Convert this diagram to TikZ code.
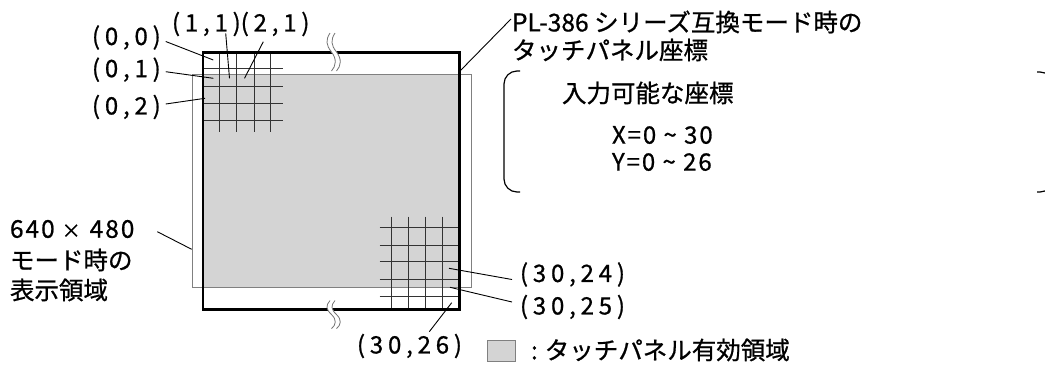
\documentclass[tikz,border=0pt]{standalone}
\usepackage{fontspec}
\setmainfont{Noto Sans CJK JP}[FakeBold=0.8]
\newfontfamily\spc{Noto Sans CJK JP}[LetterSpace=20,FakeBold=0.8]
\newfontfamily\spcb{Noto Sans CJK JP}[LetterSpace=8,FakeBold=0.8]
\begin{document}
\begin{tikzpicture}[x=1pt,y=-1pt,
  txt/.style={inner sep=0pt, outer sep=0pt, anchor=west, font=\fontsize{24.5}{30}\selectfont},
  coordlbl/.style={txt, font=\spc\fontsize{24}{30}\selectfont},
  rangelbl/.style={txt, font=\spcb\fontsize{24}{30}\selectfont},
  leader/.style={draw=black, line width=0.9pt},
  gridln/.style={draw=black!80, line width=0.9pt},
  frameln/.style={draw=black, line width=2.6pt},
  displn/.style={draw=black!50, line width=1pt},
  shadefill/.style={fill=black!17},
  brkln/.style={draw=black!55, line width=0.8pt},
  bracketln/.style={draw=black, line width=1.2pt, rounded corners=13pt}]
\clip (0,0) rectangle (1045,365);
\fill[white] (0,0) rectangle (1045,365);
% shaded touch area
\fill[shadefill] (203,74.7) rectangle (459.5,287);
% display area
\draw[displn] (192,74.7) rectangle (471.7,287);
% top-left grid
\foreach \y in {68.5,86,103.5,120.5} \draw[gridln] (203,\y) -- (283,\y);
\foreach \x in {219.5,236.7,254,270.5} \draw[gridln] (\x,52.3) -- (\x,132);
% bottom-right grid
\foreach \y in {227.7,245,261.7,279.3,296.7} \draw[gridln] (379.5,\y) -- (459.5,\y);
\foreach \x in {391.3,408.7,425.3,442.3} \draw[gridln] (\x,216.7) -- (\x,309.5);
% frame
\draw[frameln] (203,52.3) rectangle (459.5,309.5);
% break marks
\begin{scope}[shift={(330,33)}]
  \draw[white, line width=4.5pt] (2.5,0) .. controls (-2,7) and (-1.5,12) .. (4,19) .. controls (9.5,26) and (8.5,33) .. (4,38);
  \draw[brkln] (0,0) .. controls (-4.5,7) and (-4,12) .. (1.5,19) .. controls (7,26) and (6,33) .. (1.5,38);
  \draw[brkln] (5,0) .. controls (0.5,7) and (1,12) .. (6.5,19) .. controls (12,26) and (11,33) .. (6.5,38);
\end{scope}
\begin{scope}[shift={(330,300.5)}, yscale=0.74]
  \draw[white, line width=4.5pt] (2.5,0) .. controls (-2,7) and (-1.5,12) .. (4,19) .. controls (9.5,26) and (8.5,33) .. (4,38);
  \draw[brkln] (0,0) .. controls (-4.5,7) and (-4,12) .. (1.5,19) .. controls (7,26) and (6,33) .. (1.5,38);
  \draw[brkln] (5,0) .. controls (0.5,7) and (1,12) .. (6.5,19) .. controls (12,26) and (11,33) .. (6.5,38);
\end{scope}
% coordinate labels
\node[coordlbl] (l00) at (92,37.5) {(0,0)};
\node[coordlbl] (l01) at (92,69.7) {(0,1)};
\node[coordlbl] (l02) at (92,107) {(0,2)};
\node[coordlbl] (l11) at (172,24) {(1,1)};
\node[coordlbl] (l21) at (l11.east) {(2,1)};
\node[coordlbl] (l3024) at (520,274.5) {(30,24)};
\node[coordlbl] (l3025) at (520,307) {(30,25)};
\node[coordlbl] (l3026) at (357,346) {(30,26)};
% leader end points
\coordinate (p00) at (213.3,60);
\coordinate (p01) at (213.3,78.3);
\coordinate (p02) at (205,98.3);
\coordinate (p11) at (229.5,78.3);
\coordinate (p21) at (244.5,78.3);
\coordinate (p3024) at (449,268.3);
\coordinate (p3025) at (450,287.3);
\coordinate (p3026) at (451.7,302.7);
\coordinate (ppl) at (460,71);
\coordinate (p640) at (191.7,249.3);
\draw[leader] ([xshift=5pt,yshift=-4pt]l00.east) -- (p00);
\draw[leader] ([xshift=5pt,yshift=-2pt]l01.east) -- (p01);
\draw[leader] ([xshift=5pt,yshift=3pt]l02.east) -- (p02);
\draw[leader] (225.7,33.3) -- (p11);
\draw[leader] (263.3,41.7) -- (p21);
\draw[leader] ([xshift=-8pt,yshift=-5pt]l3024.west) -- (p3024);
\draw[leader] ([xshift=-8pt,yshift=5pt]l3025.west) -- (p3025);
\draw[leader] (429.3,331.7) -- (p3026);
% top right title
\node[txt] (pl) at (512,22) {PL-386 シリーズ互換モード時の};
\node[txt] (pl2) at (512,50) {タッチパネル座標};
\draw[leader] (ppl) -- ([xshift=-1pt,yshift=3pt]pl.west);
% bracket block
\draw[bracketln] (520,71) -- (504,71) -- (504,192) -- (520,192);
\draw[bracketln] (1037,72) -- (1053,72) -- (1053,192) -- (1037,192);
\node[txt] (inp) at (562,93) {入力可能な座標};
\node[rangelbl] (xr) at (612,135) {X=0 \textasciitilde{} 30};
\node[rangelbl] (yr) at (612,162) {Y=0 \textasciitilde{} 26};
% left label
\node[txt] (l640) at (10,229) {{\spcb 640}\hspace{7pt}{\fontsize{19}{19}\selectfont ×}\hspace{9pt}{\spcb 480}};
\node[txt] (lmode) at (10,260) {モード時の};
\node[txt] (ldisp) at (10,290) {表示領域};
\draw[leader] (157.3,231.7) -- (p640);
% legend
\draw[shadefill, draw=black!50, line width=1pt] (487,340) rectangle (515,361.5);
\node[txt] (leg) at (531,350) {:\hspace{7pt}タッチパネル有効領域};
\end{tikzpicture}
\end{document}
